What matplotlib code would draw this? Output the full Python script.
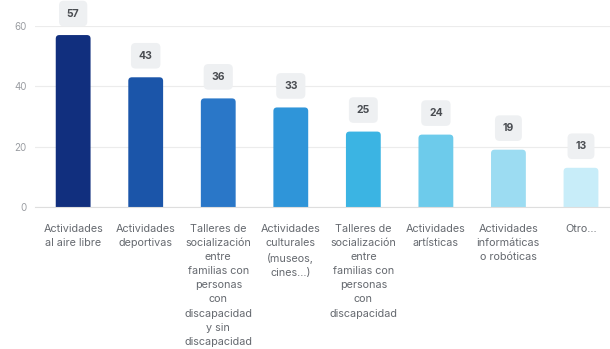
import matplotlib
matplotlib.use("Agg")
import matplotlib.pyplot as plt
from matplotlib.patches import FancyBboxPatch

plt.rcParams['font.family'] = ['Inter', 'DejaVu Sans']

categories = [
    "Actividades\nal aire libre",
    "Actividades\ndeportivas",
    "Talleres de\nsocialización\nentre\nfamilias con\npersonas\ncon\ndiscapacidad\ny sin\ndiscapacidad",
    "Actividades\nculturales\n(museos,\ncines...)",
    "Talleres de\nsocialización\nentre\nfamilias con\npersonas\ncon\ndiscapacidad",
    "Actividades\nartísticas",
    "Actividades\ninformáticas\no robóticas",
    "Otro...",
]
values = [57, 43, 36, 33, 25, 24, 19, 13]
colors = ["#112f7e", "#1b55a9", "#2a77c8", "#2f95d9", "#3bb4e3",
          "#6dcbeb", "#9cdcf2", "#c8edf9"]
yticks = [0, 20, 40, 60]

W, H = 610, 349
fig = plt.figure(figsize=(W / 100, H / 100), dpi=100)
ax = fig.add_axes([35 / W, 1 - 207 / H, 575 / W, 181 / H])

x = list(range(len(values)))
bar_w = 0.48
bars = ax.bar(x, values, width=bar_w, color=colors, zorder=2)

# rounded tops: replace each rectangle with a rounded patch of the same bounds
for b, c in zip(bars, colors):
    b.set_visible(False)
    bx, by = b.get_x(), b.get_y()
    bw, bh = b.get_width(), b.get_height()
    p = FancyBboxPatch((bx, by - 2), bw, bh + 2,
                       boxstyle="round,pad=0,rounding_size=0.05",
                       mutation_aspect=24, facecolor=c, edgecolor="none",
                       zorder=2)
    p.set_clip_path(ax.patch)
    ax.add_patch(p)

# value badges above the bars
for xi, v in zip(x, values):
    ax.annotate(str(v), (xi, v), xytext=(0, 15.5), textcoords="offset points",
                ha="center", va="center", fontsize=7.5, fontweight="bold",
                color="#4a4d52", annotation_clip=False, zorder=3,
                bbox=dict(boxstyle="round,pad=0.75,rounding_size=0.45",
                          facecolor="#eef0f2", edgecolor="none"))

ax.set_xlim(-0.526, 7.40)
ax.set_ylim(0, 60)
ax.set_yticks(yticks)
ax.set_yticklabels([str(t) for t in yticks])
ax.set_xticks(x)
ax.set_xticklabels(categories, fontsize=7.8, color="#666a70", linespacing=1.52,
                   va="top")
ax.tick_params(axis="x", length=0, pad=12)
ax.tick_params(axis="y", length=0, pad=6, labelsize=7, labelcolor="#9a9da2")

ax.grid(axis="y", color="#ececec", linewidth=0.8, zorder=0)
ax.set_axisbelow(True)
for s in ["top", "right", "left"]:
    ax.spines[s].set_visible(False)
ax.spines["bottom"].set_color("#dedede")
ax.spines["bottom"].set_linewidth(0.8)

fig.savefig("out.png", dpi=100)
